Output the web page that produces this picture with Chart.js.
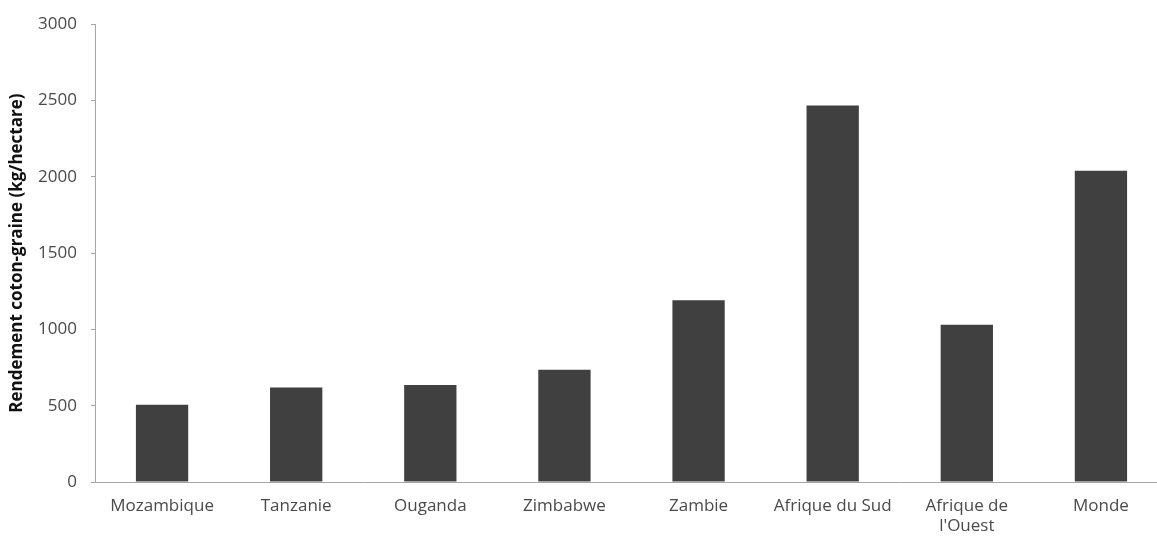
<!DOCTYPE html>
<html lang="fr">
<head>
<meta charset="utf-8">
<title>Rendement coton-graine</title>
<script src="https://cdn.jsdelivr.net/npm/chart.js@4/dist/chart.umd.min.js"></script>
<style>
    html, body { margin: 0; padding: 0; background: #fff; overflow: hidden; }
    #wrap { width: 1157px; height: 536px; overflow: hidden; position: relative; }
    #box { width: 1180px; height: 536px; position: absolute; left: 0; top: 0; }
</style>
</head>
<body>
<div id="wrap">
    <div id="box"><canvas id="rendementChart"></canvas></div>
</div>
<script>
// Données
const pays = ['Mozambique', 'Tanzanie', 'Ouganda', 'Zimbabwe', 'Zambie', 'Afrique du Sud', ['Afrique de', "l'Ouest"], 'Monde'];
const rendement = [507, 619, 636, 735, 1191, 2467, 1030, 2040];
const yTicks = [0, 500, 1000, 1500, 2000, 2500, 3000];

const police = "'Open Sans', 'Liberation Sans', sans-serif";

const ctx = document.getElementById('rendementChart').getContext('2d');
new Chart(ctx, {
    type: 'bar',
    data: {
        labels: pays,
        datasets: [{
            label: 'Rendement',
            data: rendement,
            backgroundColor: '#404040',
            borderWidth: 0,
            barPercentage: 0.39,
            categoryPercentage: 1.0
        }]
    },
    options: {
        responsive: true,
        maintainAspectRatio: false,
        animation: false,
        layout: { padding: { top: 24, right: 12, left: 0, bottom: 0 } },
        plugins: {
            legend: { display: false },
            tooltip: { enabled: false }
        },
        scales: {
            x: {
                grid: { display: false, drawTicks: false },
                border: { display: true, color: '#a6a6a6', width: 1 },
                ticks: {
                    color: '#4a4a4a',
                    font: { family: police, size: 17 },
                    padding: 14,
                    maxRotation: 0,
                    autoSkip: false
                },
                afterFit: (scale) => { scale.height = 54; }
            },
            y: {
                min: 0,
                max: 3000,
                afterBuildTicks: (scale) => { scale.ticks = yTicks.map(v => ({ value: v })); },
                grid: { drawOnChartArea: false, drawTicks: true, tickLength: 4, color: '#a6a6a6' },
                border: { display: true, color: '#a6a6a6', width: 1 },
                ticks: {
                    color: '#4a4a4a',
                    font: { family: police, size: 17 },
                    padding: 14,
                    callback: (v) => String(v)
                },
                title: {
                    display: true,
                    text: 'Rendement coton-graine (kg/hectare)',
                    color: '#111',
                    font: { family: police, size: 17, weight: 'bold' },
                    padding: { top: 7, bottom: 0 }
                },
                afterFit: (scale) => { scale.width = 95; }
            }
        }
    }
});
</script>
</body>
</html>
